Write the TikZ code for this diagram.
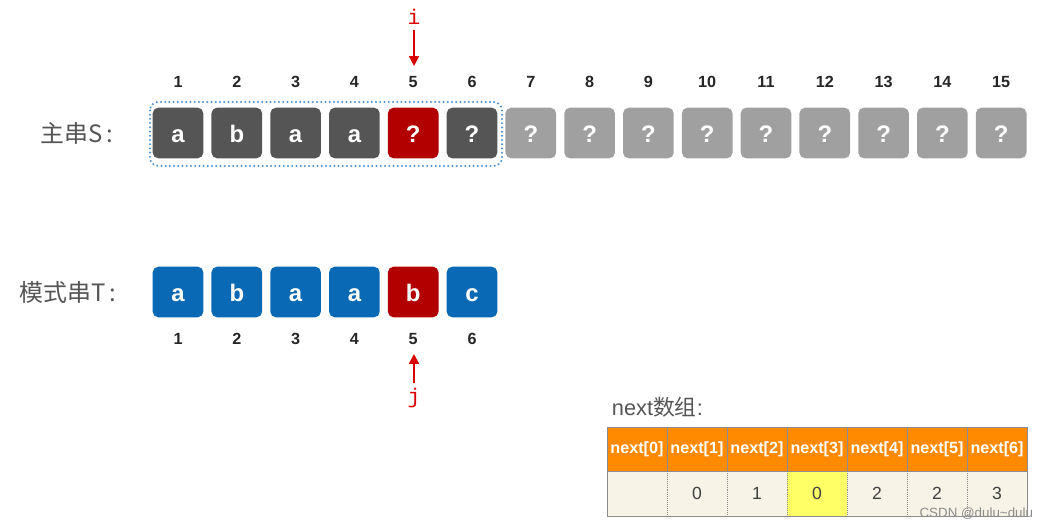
\documentclass[tikz,border=0pt]{standalone}
\usepackage{fontspec}
\setmainfont{Liberation Sans}
\newfontfamily\cjkfont{Noto Sans CJK SC}
\newfontfamily\ptrfont{Liberation Mono}
\usetikzlibrary{arrows.meta, positioning}
\definecolor{darkcell}{HTML}{555555}
\definecolor{hitred}{HTML}{B20000}
\definecolor{restcell}{HTML}{A0A0A0}
\definecolor{patblue}{HTML}{0A69B4}
\definecolor{winblue}{HTML}{4A8FD0}
\definecolor{headorange}{HTML}{FF8A00}
\definecolor{rowbeige}{HTML}{F7F3E6}
\definecolor{markyellow}{HTML}{FFFF66}
\definecolor{labelgray}{HTML}{555555}
\tikzstyle{cell}    = [rounded corners=4pt, minimum size=36pt, inner sep=0pt,
                       text height=14pt, text depth=0pt,
                       text=white, font=\fontsize{17}{17}\selectfont\bfseries]
\tikzstyle{idx}     = [font=\fontsize{11.5}{12}\selectfont\bfseries, text=black!85]
\tikzstyle{rowname} = [anchor=east, text=labelgray, font=\fontsize{17}{18}\selectfont\cjkfont]
\tikzstyle{ptr}     = [text=red!85!black, font=\fontsize{15}{15}\selectfont\ptrfont]
\tikzstyle{ptrarrow}= [red!85!black, line width=1.5pt, -{Triangle[width=7pt,length=7pt]}]
\tikzstyle{head}    = [draw=black!45, fill=headorange, minimum width=42.5pt, minimum height=31.2pt,
                       inner sep=0pt, text=white, font=\fontsize{11.5}{12}\selectfont\bfseries]
\tikzstyle{val}     = [fill=rowbeige, minimum width=42.5pt, minimum height=31.9pt,
                       inner sep=0pt, text=black!75, font=\fontsize{12.5}{13}\selectfont]

\begin{document}
\begin{tikzpicture}[x=0.025cm, y=-0.025cm]
  \useasboundingbox (0,0) rectangle (1053,530);

  % main string S
  \node[rowname] (sname) at (118,133) {主串S\,:};
  \foreach \k/\ch/\col in {1/a/darkcell, 2/b/darkcell, 3/a/darkcell, 4/a/darkcell,
                           5/?/hitred, 6/?/darkcell, 7/?/restcell, 8/?/restcell,
                           9/?/restcell, 10/?/restcell, 11/?/restcell, 12/?/restcell,
                           13/?/restcell, 14/?/restcell, 15/?/restcell} {
    \node[cell, fill=\col] (s\k) at ({178+58.8*(\k-1)},133) {\ch};
    \node[idx] (sn\k) at ({178+58.8*(\k-1)},82) {\k};
  }
  \draw[winblue, line width=1.6pt, line cap=round, dash pattern=on 0pt off 3pt,
        rounded corners=6pt] (150,102) rectangle (502,166);

  % pointer i
  \node[ptr] (ilab) at (414,17) {i};
  \coordinate (itip) at (414,66);
  \draw[ptrarrow] (ilab.south) -- (itip);

  % pattern T
  \node[rowname] (tname) at (121,292) {模式串T\,:};
  \foreach \k/\ch/\col in {1/a/patblue, 2/b/patblue, 3/a/patblue, 4/a/patblue,
                           5/b/hitred, 6/c/patblue} {
    \node[cell, fill=\col] (t\k) at ({178+58.8*(\k-1)},292) {\ch};
    \node[idx] (tn\k) at ({178+58.8*(\k-1)},339) {\k};
  }

  % pointer j
  \node[ptr] (jlab) at (414,398) {j};
  \coordinate (jtip) at (414,354);
  \draw[ptrarrow] (jlab.north) -- (jtip);

  % next array
  \node[anchor=west, text=labelgray, font=\fontsize{15.5}{16}\selectfont] (ntitle) at (607,407)
    {next{\cjkfont 数组}:};
  \foreach \k/\v in {0/{}, 1/0, 2/1, 3/0, 4/2, 5/2, 6/3} {
    \node[head] (h\k) at ({637+60*\k},449) {next[\k]};
    \node[val] (v\k) at ({637+60*\k},493.5) {\v};
  }
  \node[val, fill=markyellow] (v3) at (817,493.5) {0};
  \foreach \k in {1,...,6} {
    \draw[black!45, densely dotted] (v\k.north west) -- (v\k.south west);
  }
  \draw[black!45] (v0.north west) rectangle (v6.south east);

  \node[anchor=east, text=black!45, font=\fontsize{9.5}{10}\selectfont] (mark) at (1038,514)
    {CSDN @dulu\textasciitilde dulu};
\end{tikzpicture}
\end{document}
